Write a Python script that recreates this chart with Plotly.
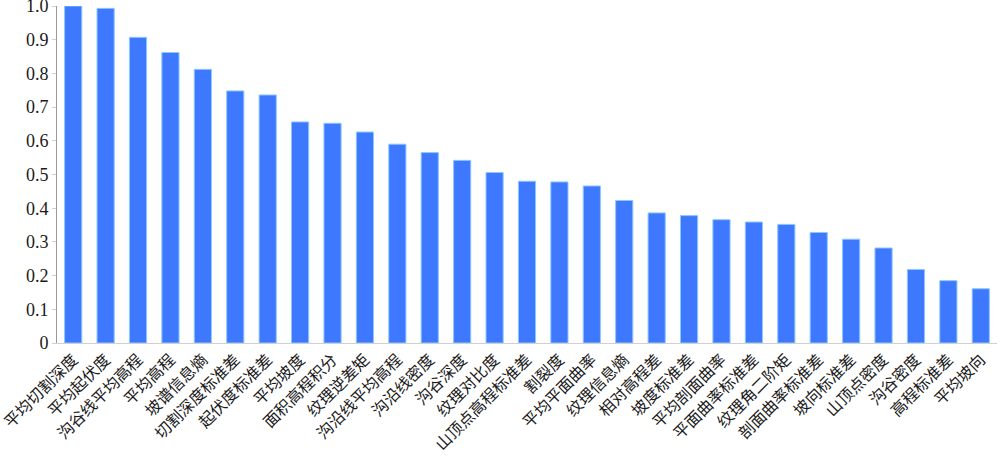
import plotly.graph_objects as go

categories = ["平均切割深度", "平均起伏度", "沟谷线平均高程", "平均高程", "坡谱信息熵",
              "切割深度标准差", "起伏度标准差", "平均坡度", "面积高程积分", "纹理逆差矩",
              "沟沿线平均高程", "沟沿线密度", "沟谷深度", "纹理对比度", "山顶点高程标准差",
              "割裂度", "平均平面曲率", "纹理信息熵", "相对高程差", "坡度标准差",
              "平均剖面曲率", "平面曲率标准差", "纹理角二阶矩", "剖面曲率标准差", "坡向标准差",
              "山顶点密度", "沟谷密度", "高程标准差", "平均坡向"]
values = [1.0, 0.993, 0.907, 0.862, 0.812,
          0.748, 0.736, 0.656, 0.652, 0.626,
          0.590, 0.565, 0.542, 0.506, 0.480,
          0.478, 0.466, 0.423, 0.386, 0.378,
          0.366, 0.359, 0.352, 0.328, 0.308,
          0.282, 0.218, 0.185, 0.161]
y_ticks = [0, 0.1, 0.2, 0.3, 0.4, 0.5, 0.6, 0.7, 0.8, 0.9, 1.0]
y_tick_text = ["0", "0.1", "0.2", "0.3", "0.4", "0.5", "0.6", "0.7", "0.8", "0.9", "1.0"]

fig = go.Figure(go.Bar(
    x=categories, y=values,
    marker=dict(color="#3d78ff", line=dict(color="#8cc8ff", width=1)),
    hoverinfo="skip",
))

serif = "Liberation Serif"
cjk = "Liberation Serif, Noto Sans CJK SC"
fig.update_layout(
    width=1000, height=460,
    margin=dict(l=57, r=3, t=6, b=117),
    paper_bgcolor="white", plot_bgcolor="white",
    bargap=0.47, showlegend=False,
    font=dict(family=cjk, color="#1a1a1a", size=16),
)
fig.update_xaxes(
    tickangle=-45, tickfont=dict(size=16, family=cjk, color="#1a1a1a"),
    showline=True, linecolor="#d0d0d0", linewidth=1, showgrid=False,
    ticks="", automargin=False,
)
fig.update_yaxes(
    range=[0, 1.0], tickvals=y_ticks, ticktext=y_tick_text,
    tickfont=dict(size=18, family=serif, color="#1a1a1a"),
    showline=True, linecolor="#999999", linewidth=1, showgrid=False,
    zeroline=False, ticks="outside", ticklen=4, tickcolor="#d0d0d0",
    ticklabeloverflow="allow", automargin=False,
)
fig.write_html("out.html", config={"displayModeBar": False},
               post_script="document.body.style.margin='0';document.body.style.overflow='hidden';")
